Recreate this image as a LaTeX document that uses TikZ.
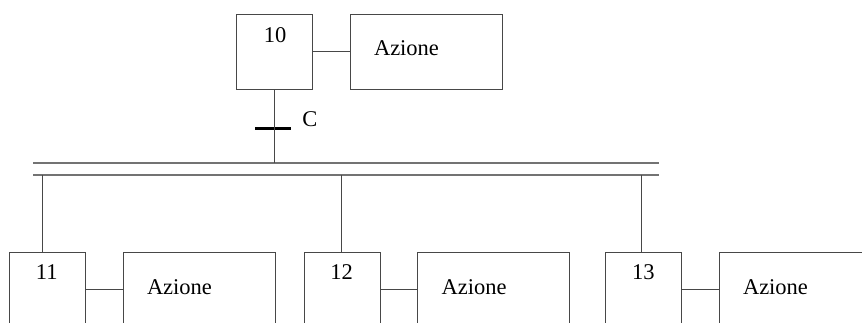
\documentclass[tikz,border=0pt]{standalone}
\usepackage{fontspec}
\setmainfont{Liberation Serif}
\begin{document}
\begin{tikzpicture}[x=1pt,y=-1pt,
  stepbox/.style={draw=black!72, line width=0.9pt, minimum width=76pt, minimum height=75pt, inner sep=0pt, outer sep=0pt},
  actbox/.style={draw=black!72, line width=0.9pt, minimum width=152pt, minimum height=75pt, inner sep=0pt, outer sep=0pt},
  txt/.style={font=\fontsize{22.5}{27}\selectfont, inner sep=0pt, outer sep=0pt},
  link/.style={draw=black!72, line width=0.9pt},
  bus/.style={draw=black!55, line width=1.1pt},
  tbar/.style={fill=black, minimum width=36pt, minimum height=3pt, inner sep=0pt, outer sep=0pt}]
\useasboundingbox (0,0) rectangle (862,323);
\clip (0,0) rectangle (862,323);

% initial step with its action
\node[stepbox] (s10) at (274.7,51.7) {};
\node[actbox]  (a10) at (426,51.7) {};
\node[txt] (n10) at (275,35) {10};
\node[txt, anchor=west] (t10) at (374,48) {Azione};
\draw[link] (s10.east) -- (a10.west);

% transition C
\node[tbar] (tc) at (272.5,128.3) {};
\node[txt] (lc) at (310,119) {C};

% parallel divergence (double bar)
\coordinate (bu1) at (33.3,163);
\coordinate (bu2) at (659.3,163);
\coordinate (bl1) at (33.3,175);
\coordinate (bl2) at (659.3,175);
\draw[bus] (bu1) -- (bu2);
\draw[bus] (bl1) -- (bl2);
\draw[link] (s10.south) -- (s10.south |- bu1);

% parallel branches
\node[stepbox] (s11) at (47.2,289.5) {};
\node[actbox]  (a11) at (199.2,289.5) {};
\node[stepbox] (s12) at (342,289.5) {};
\node[actbox]  (a12) at (493.5,289.5) {};
\node[stepbox] (s13) at (643.3,289.5) {};
\node[actbox]  (a13) at (795.3,289.5) {};

\node[txt] (n11) at (46.7,272.5) {11};
\node[txt] (n12) at (341.7,272.3) {12};
\node[txt] (n13) at (643.3,272.3) {13};
\node[txt, anchor=west] (t11) at (147,286.7) {Azione};
\node[txt, anchor=west] (t12) at (441.7,286.7) {Azione};
\node[txt, anchor=west] (t13) at (743,286.7) {Azione};

\coordinate (d11) at (42.3,175);
\coordinate (d12) at (341.7,175);
\coordinate (d13) at (641.7,175);
\draw[link] (d11) -- (d11 |- s11.north);
\draw[link] (d12) -- (d12 |- s12.north);
\draw[link] (d13) -- (d13 |- s13.north);

\draw[link] (s11.east) -- (a11.west);
\draw[link] (s12.east) -- (a12.west);
\draw[link] (s13.east) -- (a13.west);
\end{tikzpicture}
\end{document}
